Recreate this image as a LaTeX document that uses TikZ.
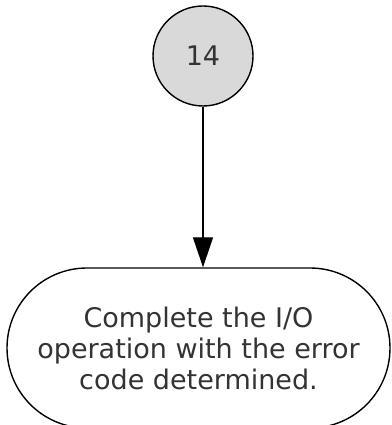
\documentclass[tikz,border=0pt]{standalone}
\usepackage{fontspec}
\setmainfont{DejaVu Sans}
\usetikzlibrary{arrows.meta,positioning}

\begin{document}
\begin{tikzpicture}[
    x=1pt, y=1pt,
    connector/.style={circle, draw, line width=1.4pt, fill=gray!30, minimum size=100pt, inner sep=0pt},
    terminal/.style={rectangle, draw, line width=1.4pt, rounded corners=80pt, minimum width=383pt, minimum height=160pt, align=center},
    arrow/.style={-{Triangle[length=30pt,width=20pt]}, line width=1.4pt}
]
\useasboundingbox (0,0) rectangle (391,425);

% Nodes
\node[connector, font=\fontsize{27}{31}\selectfont, text=black!80] (c14) at (203,369) {14};
\node[terminal, font=\fontsize{27}{31}\selectfont, text=black!80] (done) at (198.5,77) {Complete the I/O\\operation with the error\\code determined.};

% Connections
\draw[arrow] (c14.south) -- (c14.south |- done.north);

\end{tikzpicture}
\end{document}
